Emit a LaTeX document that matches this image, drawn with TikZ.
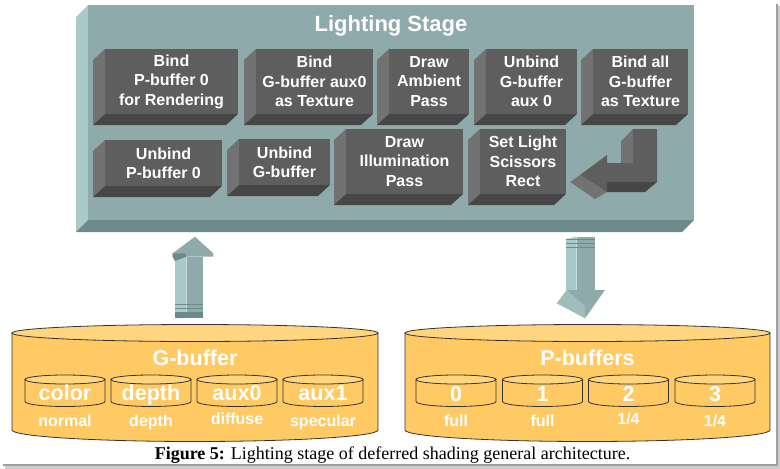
\documentclass[tikz,border=0pt]{standalone}
\usepackage{fontspec}
\setmainfont{Liberation Sans}
\newfontfamily\capfont{Liberation Serif}
\definecolor{slabfront}{RGB}{143,170,170}
\definecolor{slabside}{RGB}{170,201,201}
\definecolor{slabbot}{RGB}{108,138,138}
\definecolor{blkfront}{RGB}{94,94,94}
\definecolor{blkside}{RGB}{114,114,114}
\definecolor{blkbot}{RGB}{70,70,70}
\definecolor{bufbody}{RGB}{255,201,100}
\definecolor{buftop}{RGB}{255,213,128}

\tikzset{
  steptext/.style={align=center, text=white, inner sep=0pt,
    font=\fontsize{16}{19.4}\selectfont\bfseries},
  buftitle/.style={anchor=base, text=white, inner sep=0pt,
    font=\fontsize{21.5}{24}\selectfont\bfseries},
  bufsub/.style={anchor=base, text=white, inner sep=0pt,
    font=\fontsize{16}{18}\selectfont\bfseries},
}

% 3D block on the stage: name, x1, y1, x2, y2 (front face), text
\newcommand{\stageblock}[6]{%
  \fill[blkside] (#2-12,#3+11) -- (#2,#3) -- (#2,#5) -- (#2-12,#5+11) -- cycle;
  \fill[blkbot] (#2-12,#5+11) -- (#2,#5) -- (#4,#5) -- (#4-12,#5+11) -- cycle;
  \fill[blkfront] (#2,#3) rectangle (#4,#5);
  \node[steptext] (#1) at ({(#2+#4)/2},{(#3+#5)/2}) {#6};
}
% cylinder: centre x, top y, bottom y, x radius, top y radius, bottom y radius
\newcommand{\bufcyl}[6]{%
  \fill[bufbody] (#1-#4,#2) -- (#1-#4,#3) arc[start angle=180, end angle=0, x radius=#4, y radius=#6] -- (#1+#4,#2) -- cycle;
  \draw[black!80, line width=0.8] (#1-#4,#2) -- (#1-#4,#3) arc[start angle=180, end angle=0, x radius=#4, y radius=#6] -- (#1+#4,#2);
  \filldraw[fill=buftop, draw=black!80, line width=0.8] (#1,#2) ellipse[x radius=#4, y radius=#5];
}

\begin{document}
\begin{tikzpicture}[x=1pt, y=-1pt]
    \useasboundingbox (0,0) rectangle (780,469);
    \fill[white] (0,0) rectangle (780,469);

    % Frame shadow
    \fill[gray!40] (5,466) rectangle (779.5,468.5);
    \fill[gray!40] (777.5,6) rectangle (779.5,468.5);
    \fill[gray!75] (3,464) rectangle (777.5,466);
    \fill[gray!75] (775.5,4) rectangle (777.5,466);

    % Lighting stage slab
    \fill[slabside] (76,17) -- (88,5) -- (88,220) -- (76,232) -- cycle;
    \fill[slabbot] (76,232) -- (88,220) -- (694,220) -- (682,232) -- cycle;
    \fill[slabfront] (88,5) rectangle (694,220);
    \node[anchor=base, text=white, inner sep=0pt, font=\fontsize{22}{24}\selectfont\bfseries] (stage) at (391,31) {Lighting Stage};

    % First row of steps
    \stageblock{bindP}{105}{49}{238}{114}{Bind\\P-buffer 0\\for Rendering}
    \stageblock{bindG}{256}{49}{373}{114}{Bind\\G-buffer aux0\\as Texture}
    \stageblock{ambient}{389}{49}{469}{114}{Draw\\Ambient\\Pass}
    \stageblock{unbindAux}{486}{49}{577}{114}{Unbind\\G-buffer\\aux 0}
    \stageblock{bindAll}{593}{49}{688}{114}{Bind all\\G-buffer\\as Texture}

    % Second row of steps
    \stageblock{unbindP}{105}{140}{222}{186}{Unbind\\P-buffer 0}
    \stageblock{unbindG}{239}{139}{330}{185}{Unbind\\G-buffer}
    \stageblock{illum}{346}{129}{463}{194}{Draw\\Illumination\\Pass}
    \stageblock{scissor}{480}{129}{566}{194}{Set Light\\Scissors\\Rect}

    % Return arrow
    \fill[blkside] (621,141) -- (633,129) -- (633,163) -- (621,163) -- cycle;
    \fill[blkbot] (600,192) -- (607,182) -- (657,182) -- (645,192) -- cycle;
    \fill[blkfront] (633,129) -- (657,129) -- (657,182) -- (607,182) -- (607,163) -- (633,163) -- cycle;
    \fill[blkfront] (580,175) -- (607,155) -- (607,192) -- cycle;
    \fill[blkside] (570,182) -- (580,175) -- (607,192) -- (595,199) -- cycle;

    % Arrow up from G-buffer
    \fill[slabside] (175,261) -- (186.7,256.7) -- (186.7,318) -- (175,318) -- cycle;
    \fill[slabfront] (186.7,256.7) rectangle (203.3,318);
    \fill[slabfront] (195,236.7) -- (213.3,253.3) -- (213.3,256.7) -- (172.7,256.7) -- (172.7,253.3) -- cycle;
    \fill[slabbot] (172.7,253.3) -- (185,253.3) -- (186.7,256.7) -- (175,261) -- (172.7,257) -- cycle;
    \draw[slabbot, line width=1.5] (175,304.3) -- (203.3,304.3);
    \draw[slabbot, line width=1.5] (175,308.3) -- (203.3,308.3);
    \fill[slabbot] (175,312.3) rectangle (203.3,318.3);

    % Arrow down to P-buffers
    \fill[slabside] (566,239) -- (576.7,236.7) -- (576.7,290) -- (566,290) -- cycle;
    \fill[slabfront] (576.7,236.7) rectangle (595,290);
    \draw[slabbot, line width=1.5] (566,239.5) -- (595,239.5);
    \draw[slabbot, line width=1.5] (566,243.5) -- (595,243.5);
    \draw[slabbot, line width=1.5] (566,247.5) -- (595,247.5);
    \fill[slabside!60!slabfront] (556.7,303.3) -- (566.7,290) -- (585,306.7) -- (585,318.3) -- cycle;
    \fill[slabfront] (566.7,290) -- (605,290) -- (585,318.3) -- (585,306.7) -- cycle;

    % G-buffer
    \bufcyl{195}{333}{430}{183}{8.5}{11.5}
    \node[buftitle] (gbuf) at (195,365) {G-buffer};
    \bufcyl{65}{379.5}{401.5}{40}{4.5}{5}
    \bufcyl{151}{379.5}{401.5}{40}{4.5}{5}
    \bufcyl{237}{379.5}{401.5}{40}{4.5}{5}
    \bufcyl{323}{379.5}{401.5}{40}{4.5}{5}
    \node[buftitle] (gcolor) at (65,400) {color};
    \node[buftitle] (gdepth) at (151,400) {depth};
    \node[buftitle] (gaux0) at (237,400) {aux0};
    \node[buftitle] (gaux1) at (323,400) {aux1};
    \node[bufsub] (gnormal) at (65,426.5) {normal};
    \node[bufsub] (gdepthsub) at (151,426.5) {depth};
    \node[bufsub] (gdiffuse) at (237,424.5) {diffuse};
    \node[bufsub] (gspecular) at (323,426.5) {specular};

    % P-buffers
    \bufcyl{587.5}{333}{430}{182.5}{8.5}{11.5}
    \node[buftitle] (pbuf) at (587.5,365) {P-buffers};
    \bufcyl{456}{379.5}{401.5}{40}{4.5}{5}
    \bufcyl{542.5}{379.5}{401.5}{40}{4.5}{5}
    \bufcyl{628.5}{379.5}{401.5}{40}{4.5}{5}
    \bufcyl{715}{379.5}{401.5}{40}{4.5}{5}
    \node[buftitle] (p0) at (456,401) {0};
    \node[buftitle] (p1) at (542.5,401) {1};
    \node[buftitle] (p2) at (628.5,401) {2};
    \node[buftitle] (p3) at (715,401) {3};
    \node[bufsub] (pfull0) at (456,426.5) {full};
    \node[bufsub] (pfull1) at (542.5,426.5) {full};
    \node[bufsub] (pquart2) at (628.5,424.5) {1/4};
    \node[bufsub] (pquart3) at (715,426.5) {1/4};

    % Caption
    \node[anchor=base, inner sep=0pt, font=\capfont\fontsize{18}{20}\selectfont] (caption) at (392.5,459) {\textbf{Figure 5:} Lighting stage of deferred shading general architecture.};
\end{tikzpicture}
\end{document}
